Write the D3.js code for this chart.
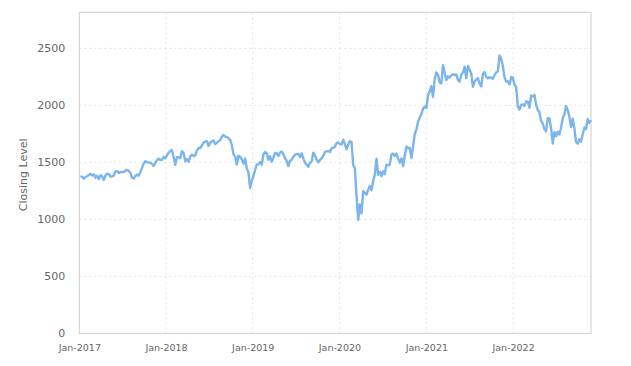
<!DOCTYPE html>
<html>
<head>
<meta charset="utf-8">
<script src="https://cdn.jsdelivr.net/npm/d3@7"></script>
<style>
  html, body { margin: 0; padding: 0; background: #fff; }
  svg { display: block; font-family: "DejaVu Sans", sans-serif; }
</style>
</head>
<body>
<svg id="chart" width="631" height="366"></svg>
<script>
// Weekly (Friday) closing levels
const closes2017 = [1378,1373,1355,1374, 1377,1389,1400,1385, 1394,1366,1383,1352,1386, 1375,1345,1386,1400, 1397,1376,1377,1383, 1418,1423,1406,1414,1415, 1415,1426,1434,1426, 1409,1365,1357,1380, 1392,1381,1414,1451,1490, 1510,1502,1498,1498, 1485,1469,1496,1519, 1531,1521,1521,1549,1535];
const closes2018 = [1560,1585,1598,1608, 1547,1477,1544,1544, 1536,1598,1582,1510,1529, 1504,1550,1568,1556, 1560,1602,1625,1626, 1647,1673,1683,1685,1643, 1672,1685,1692,1660, 1669,1687,1693,1725,1740, 1724,1723,1710,1696, 1652,1572,1552,1481, 1558,1549,1527,1488,1533, 1448,1411,1275,1337];
const closes2019 = [1380,1433,1482,1482, 1502,1479,1569,1590, 1580,1523,1554,1505,1540, 1583,1581,1555,1586, 1594,1573,1536,1512,1466, 1514,1520,1549,1567, 1572,1572,1547,1578, 1534,1496,1480,1461,1494, 1506,1584,1561,1523, 1500,1522,1535,1558, 1589,1597,1598,1590,1624, 1628,1636,1670,1673];
const closes2020 = [1660,1656,1699,1661,1614, 1656,1687,1678,1476, 1449,1210,995,1131, 1052,1247,1233,1216, 1260,1293,1255,1335,1394, 1532,1388,1418,1378, 1421,1398,1480,1473,1480, 1568,1578,1555,1577, 1535,1497,1535,1467, 1555,1640,1623,1628,1538, 1633,1749,1785,1855, 1893,1923,1970,1990];
const closes2021 = [1975,2091,2123,2168,2073, 2233,2289,2266,2201, 2192,2352,2287,2221, 2254,2243,2264,2271,2266, 2271,2223,2207,2268, 2287,2338,2238,2346, 2311,2280,2162,2209,2226, 2237,2191,2165,2277, 2292,2249,2236,2248, 2241,2233,2265,2289,2297, 2437,2411,2343,2245, 2208,2211,2183,2248,2245];
const closes2022 = [2180,2162,1988,1962, 2003,2009,1995,2035, 2032,1979,2086,2077, 2092,2004,1958,1940,1864, 1839,1792,1773,1887, 1884,1800,1665,1765, 1728,1769,1744,1806,1885, 1921,1994,1957,1899, 1809,1883,1799,1679,1664, 1702,1682,1742,1806, 1790,1880,1845,1869];
const yTicks = [0, 500, 1000, 1500, 2000, 2500];
const xTickYears = [2017, 2018, 2019, 2020, 2021, 2022];
const yTitle = "Closing Level";

(function () {
const closes = [].concat(closes2017, closes2018, closes2019, closes2020, closes2021, closes2022);
const fridays = d3.timeFriday.range(new Date(2017, 0, 1), new Date(2023, 0, 1));
const data = closes.map((v, i) => ({ date: fridays[i], value: v }));

const svg = d3.select("#chart");
const pLeft = 79.3, pRight = 591, pTop = 12.3, pBottom = 333.3;

const x = d3.scaleTime()
  .domain([new Date(2017, 0, 1), data[data.length - 1].date])
  .range([pLeft, pRight]);
const y = d3.scaleLinear().domain([0, 2816]).range([pBottom, pTop]);

// grid
const gridColor = "#e2e2e2";
svg.append("g").selectAll("line").data(yTicks.slice(1)).join("line")
  .attr("x1", pLeft).attr("x2", pRight)
  .attr("y1", d => y(d)).attr("y2", d => y(d))
  .attr("stroke", gridColor).attr("stroke-dasharray", "2,3").attr("stroke-width", 1);
const xTickDates = xTickYears.map(yr => new Date(yr, 0, 1));
svg.append("g").selectAll("line").data(xTickDates.slice(1)).join("line")
  .attr("x1", d => x(d)).attr("x2", d => x(d))
  .attr("y1", pTop).attr("y2", pBottom)
  .attr("stroke", gridColor).attr("stroke-dasharray", "2,3").attr("stroke-width", 1);

// plot border
svg.append("rect")
  .attr("x", pLeft).attr("y", pTop)
  .attr("width", pRight - pLeft).attr("height", pBottom - pTop)
  .attr("fill", "none").attr("stroke", "#cccccc").attr("stroke-width", 1);

// y axis
const yAxis = d3.axisLeft(y).tickValues(yTicks).tickSize(0).tickPadding(14).tickFormat(d3.format("d"));
const gy = svg.append("g").attr("transform", `translate(${pLeft},0)`).call(yAxis);
gy.select(".domain").remove();
gy.selectAll("text").attr("fill", "#666").style("font-size", "11px").style("font-family", "DejaVu Sans");

// x axis
const xAxis = d3.axisBottom(x).tickValues(xTickDates).tickSize(0).tickPadding(11)
  .tickFormat(d3.timeFormat("%b-%Y"));
const gx = svg.append("g").attr("transform", `translate(0,${pBottom})`).call(xAxis);
gx.select(".domain").remove();
gx.selectAll("text").attr("fill", "#666").style("font-size", "9.5px").style("font-family", "DejaVu Sans");

// y title
svg.append("text")
  .attr("transform", `translate(27,${(pTop + pBottom) / 2 + 2}) rotate(-90)`)
  .attr("text-anchor", "middle")
  .attr("fill", "#666")
  .style("font-size", "11px")
  .text(yTitle);

// line
const line = d3.line().x(d => x(d.date)).y(d => y(d.value)).curve(d3.curveLinear);
svg.append("path").datum(data)
  .attr("d", line)
  .attr("fill", "none")
  .attr("stroke", "#7cb5ec")
  .attr("stroke-width", 2.4)
  .attr("stroke-linejoin", "round");
})();
</script>
</body>
</html>
